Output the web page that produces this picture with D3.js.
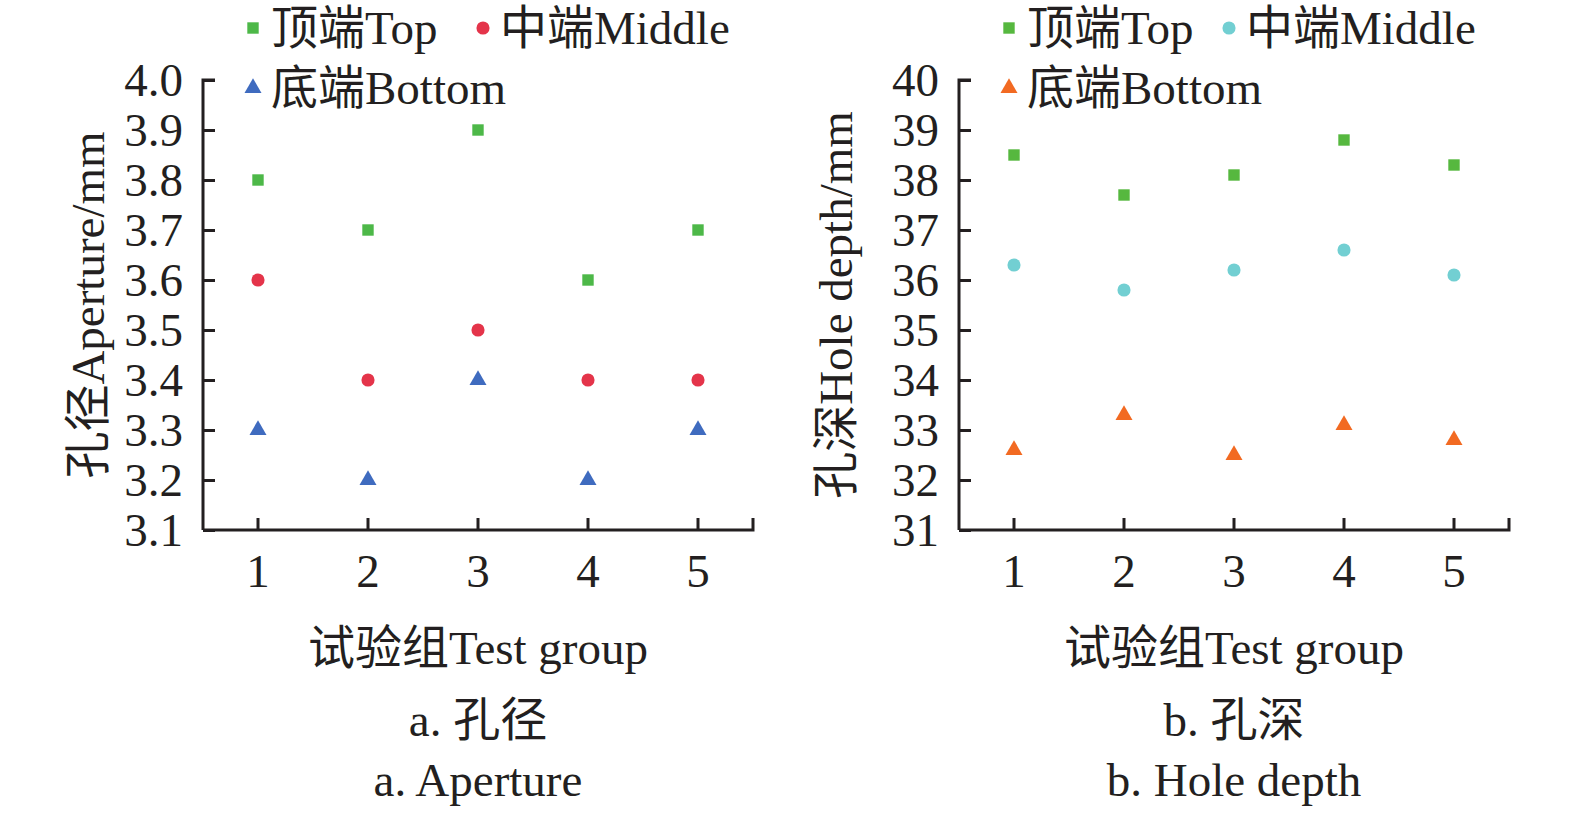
<!DOCTYPE html>
<html lang="zh">
<head>
<meta charset="UTF-8">
<script src="https://d3js.org/d3.v7.min.js"></script>
<style>
  body { margin: 0; background: #fff; }
  text { font-family: "Liberation Serif", "Noto Sans CJK SC", serif; fill: #231f20; }
</style>
</head>
<body>
<svg id="vis" width="1575" height="814"></svg>
<script>
// data
var groups = [1, 2, 3, 4, 5];
var seriesNames = ["顶端Top", "中端Middle", "底端Bottom"];

var apertureTop = [3.8, 3.7, 3.9, 3.6, 3.7];
var apertureMiddle = [3.6, 3.4, 3.5, 3.4, 3.4];
var apertureBottom = [3.3, 3.2, 3.4, 3.2, 3.3];
var apertureTicks = [3.1, 3.2, 3.3, 3.4, 3.5, 3.6, 3.7, 3.8, 3.9, 4.0];

var depthTop = [38.5, 37.7, 38.1, 38.8, 38.3];
var depthMiddle = [36.3, 35.8, 36.2, 36.6, 36.1];
var depthBottom = [32.6, 33.3, 32.5, 33.1, 32.8];
var depthTicks = [31, 32, 33, 34, 35, 36, 37, 38, 39, 40];

var svg = d3.select("#vis");
var ink = "#231f20";
var fs = 47;

function drawPanel(opt) {
  var g = svg.append("g");
  var x = d3.scaleBand().domain(groups).range([opt.x0, opt.x0 + 550]);
  var y = d3.scaleLinear().domain(opt.domain).range([530, 80]);

  // axes
  var yAxis = d3.axisRight(y).tickValues(opt.ticks).tickSize(12).tickFormat("");
  var gy = g.append("g").attr("transform", "translate(" + opt.x0 + ",0)").call(yAxis);
  gy.select(".domain").attr("d", "M12,80H0V530");
  var xAxis = d3.axisTop(x).tickSize(12).tickFormat("");
  var gx = g.append("g").attr("transform", "translate(0,530)").call(xAxis);
  gx.select(".domain").attr("d", "M" + opt.x0 + ",0H" + (opt.x0 + 550) + "V-12");
  g.selectAll(".domain, .tick line").attr("stroke", ink).attr("stroke-width", 3);

  // tick labels
  g.selectAll(".ylab").data(opt.ticks).enter().append("text")
    .attr("x", opt.x0 - 20).attr("y", function (d) { return y(d); })
    .attr("dy", "0.35em").attr("text-anchor", "end").attr("font-size", fs)
    .text(function (d) { return opt.fmt(d); });
  g.selectAll(".xlab").data(groups).enter().append("text")
    .attr("x", function (d) { return x(d) + x.bandwidth() / 2; }).attr("y", 571)
    .attr("dy", "0.35em").attr("text-anchor", "middle").attr("font-size", fs)
    .text(function (d) { return d; });

  // titles
  var cx = opt.x0 + 275;
  g.append("text").attr("x", cx).attr("y", 664).attr("text-anchor", "middle")
    .attr("font-size", fs).text("试验组Test group");
  g.append("text").attr("transform", "translate(" + opt.ytx + ",305) rotate(-90)")
    .attr("text-anchor", "middle").attr("font-size", fs).text(opt.ytitle);
  g.append("text").attr("x", cx).attr("y", 736).attr("text-anchor", "middle")
    .attr("font-size", fs).text(opt.cap1);
  g.append("text").attr("x", cx).attr("y", 796).attr("text-anchor", "middle")
    .attr("font-size", fs).text(opt.cap2);

  var symbols = [d3.symbolSquare, d3.symbolCircle, d3.symbolTriangle];
  var sizes = [130, 135, 125];
  var data = [opt.top, opt.middle, opt.bottom];

  data.forEach(function (vals, si) {
    var sym = d3.symbol().type(symbols[si]).size(sizes[si]);
    g.selectAll(".pt" + si).data(vals).enter().append("path")
      .attr("d", sym)
      .attr("fill", opt.colors[si])
      .attr("transform", function (d, i) {
        return "translate(" + (x(groups[i]) + x.bandwidth() / 2) + "," + y(d) + ")";
      });
  });

  // legend
  var leg = [
    { x: opt.x0 + 50, y: 28, tx: opt.x0 + 68 },
    { x: opt.legMidX, y: 28, tx: opt.legMidX + 17 },
    { x: opt.x0 + 50, y: 88, tx: opt.x0 + 68 }
  ];
  leg.forEach(function (l, si) {
    var sym = d3.symbol().type(symbols[si]).size(sizes[si]);
    g.append("path").attr("d", sym).attr("fill", opt.colors[si])
      .attr("transform", "translate(" + l.x + "," + l.y + ")");
    g.append("text").attr("x", l.tx).attr("y", l.y).attr("dy", "0.35em")
      .attr("font-size", fs).text(seriesNames[si]);
  });
}

drawPanel({
  x0: 203, domain: [3.1, 4.0], ticks: apertureTicks, fmt: d3.format(".1f"),
  top: apertureTop, middle: apertureMiddle, bottom: apertureBottom,
  colors: ["#4db848", "#e4344a", "#3f6bbf"],
  ytitle: "孔径Aperture/mm", ytx: 104,
  cap1: "a. 孔径", cap2: "a. Aperture", legMidX: 483
});

drawPanel({
  x0: 959, domain: [31, 40], ticks: depthTicks, fmt: d3.format("d"),
  top: depthTop, middle: depthMiddle, bottom: depthBottom,
  colors: ["#56b83f", "#72cfd2", "#f26a22"],
  ytitle: "孔深Hole depth/mm", ytx: 852,
  cap1: "b. 孔深", cap2: "b. Hole depth", legMidX: 1229
});
</script>
</body>
</html>
